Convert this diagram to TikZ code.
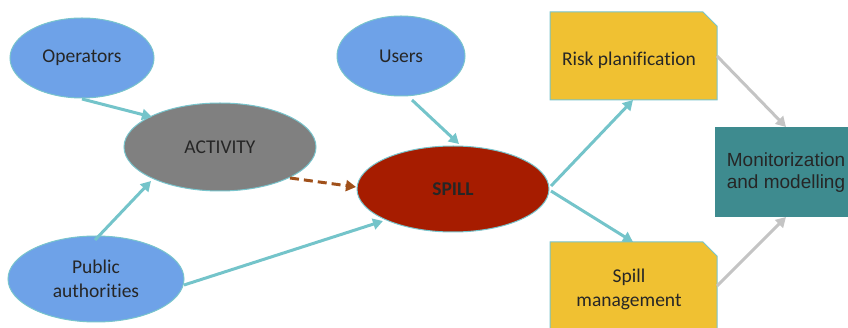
\documentclass[tikz,border=0pt]{standalone}
\usepackage{fontspec}
\setmainfont{Carlito}[Ligatures=NoCommon]
\newfontfamily\arialf{Liberation Sans}
\usetikzlibrary{shapes.geometric,arrows.meta}
\definecolor{blueF}{RGB}{110,162,232}
\definecolor{edgeT}{RGB}{120,196,204}
\definecolor{grayF}{RGB}{128,128,128}
\definecolor{redF}{RGB}{166,28,0}
\definecolor{yelF}{RGB}{240,193,50}
\definecolor{tealF}{RGB}{62,139,143}
\definecolor{arrT}{RGB}{116,196,202}
\definecolor{arrG}{RGB}{196,196,196}
\definecolor{arrB}{RGB}{160,80,26}
\begin{document}
\begin{tikzpicture}[x=1pt,y=-1pt,
  txt/.style={font=\fontsize{19.5}{24}\selectfont,text=black!85},
  ell/.style={ellipse,draw=edgeT,line width=1pt,inner sep=0pt,txt},
  tarr/.style={draw=arrT,line width=3pt,-{Triangle[length=10pt,width=11pt]}},
  garr/.style={draw=arrG,line width=3pt,-{Triangle[length=10pt,width=11pt]}},
  ]
\useasboundingbox (0,0) rectangle (848,328);
% ellipses
\node[ell,fill=blueF,minimum width=144pt,minimum height=80pt] (op) at (82,58) {Operators};
\node[ell,fill=blueF,minimum width=128pt,minimum height=80pt] (us) at (401,56) {Users};
\node[ell,fill=grayF,minimum width=192pt,minimum height=88pt] (act) at (220,147) {ACTIVITY};
\node[ell,fill=redF,minimum width=192pt,minimum height=86pt,font=\fontsize{19.5}{24}\selectfont\bfseries] (sp) at (453,189) {SPILL};
\node[ell,fill=blueF,minimum width=176pt,minimum height=86pt,align=center] (pa) at (96,279) {Public\\authorities};
% yellow boxes with cut corner
\filldraw[fill=yelF,draw=edgeT,line width=1pt] (550,12) -- (703,12) -- (717,26) -- (717,100) -- (550,100) -- cycle;
\node[txt] (rp) at (629,60) {Risk planification};
\coordinate (rpB) at (633,100);
\coordinate (rpR) at (717,56);
\filldraw[fill=yelF,draw=edgeT,line width=1pt] (550,242) -- (703,242) -- (717,256) -- (717,330) -- (550,330) -- cycle;
\node[txt,align=center] (sm) at (629,289) {Spill\\management};
\coordinate (smT) at (633,242);
\coordinate (smR) at (717,286);
% teal box
\fill[tealF] (715,127) rectangle (850,217);
\node[font=\arialf\fontsize{19}{22}\selectfont,text=black!85,align=center] (mo) at (786,173) {Monitorization\\and modelling};
\coordinate (moT) at (786,127);
\coordinate (moB) at (786,217);
% arrows
\draw[tarr] (82,99) -- (152,117);
\draw[tarr] (95,240) -- (151,181);
\draw[tarr] (184,285) -- (383,221);
\draw[tarr] (412,100) -- (459,144);
\draw[draw=arrB,line width=3pt,dash pattern=on 9pt off 5pt,-{Triangle[length=10pt,width=11pt]}] (290,178) -- (356,187);
\draw[tarr] (551,186) -- (rpB);
\draw[tarr] (551,191) -- (smT);
\draw[garr] (rpR) -- (moT);
\draw[garr] (smR) -- (moB);
\end{tikzpicture}
\end{document}
